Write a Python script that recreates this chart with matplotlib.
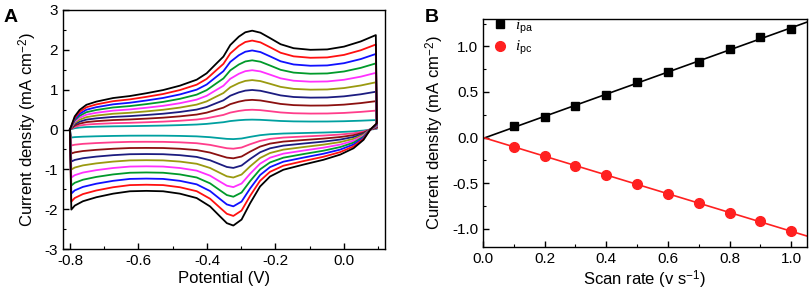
import numpy as np
import matplotlib
matplotlib.use("Agg")
from matplotlib import pyplot as plt
from matplotlib.ticker import MultipleLocator

plt.rcParams['font.family'] = ['Liberation Sans', 'DejaVu Sans']
plt.rcParams['mathtext.fontset'] = 'custom'
plt.rcParams['mathtext.rm'] = 'Liberation Sans'
plt.rcParams['mathtext.it'] = 'Liberation Serif:italic'

# outermost CV loop (1.0 V/s), anodic sweep then cathodic sweep
cv_x = [-0.800, -0.786, -0.772, -0.752, -0.723, -0.674, -0.625, -0.577, -0.528,
        -0.479, -0.430, -0.401, -0.372, -0.352, -0.332, -0.307, -0.288, -0.268,
        -0.244, -0.215, -0.185, -0.147, -0.098, -0.049, 0.000, 0.049, 0.093,
        0.096,
        0.077, 0.057, 0.028, -0.011, -0.060, -0.118, -0.177, -0.216, -0.245,
        -0.274, -0.299, -0.323, -0.342, -0.362, -0.391, -0.430, -0.479, -0.528,
        -0.577, -0.625, -0.674, -0.723, -0.762, -0.786, -0.796, -0.800]
cv_y = [0.00, 0.33, 0.49, 0.62, 0.70, 0.79, 0.84, 0.91, 0.99,
        1.10, 1.25, 1.41, 1.66, 1.83, 2.12, 2.33, 2.44, 2.48,
        2.43, 2.29, 2.14, 2.04, 2.00, 2.01, 2.08, 2.21, 2.37,
        0.16,
        0.00, -0.26, -0.47, -0.63, -0.76, -0.88, -1.01, -1.18, -1.43,
        -1.85, -2.26, -2.41, -2.35, -2.18, -1.93, -1.72, -1.61, -1.55,
        -1.54, -1.55, -1.61, -1.70, -1.80, -1.91, -2.01, 0.00]
# anodic peak height of each curve, 0.1 ... 1.0 V/s
cv_peak = [0.25, 0.50, 0.75, 1.00, 1.25, 1.50, 1.75, 2.00, 2.25, 2.50]
cv_cols = ['#00a0a0', '#ff3d8b', '#8b1010', '#1c1c80', '#9a9a10',
           '#ff30ff', '#009a2a', '#1010ff', '#ff1010', 'black']

rate = [0.1, 0.2, 0.3, 0.4, 0.5, 0.6, 0.7, 0.8, 0.9, 1.0]
ipa = [0.123, 0.228, 0.348, 0.467, 0.609, 0.717, 0.826, 0.967, 1.098, 1.196]
ipc = [-0.100, -0.203, -0.312, -0.413, -0.507, -0.616, -0.717, -0.826, -0.920, -1.029]

fig = plt.figure(figsize=(8.09, 2.93), dpi=100)
axA = fig.add_axes([0.078, 0.150, 0.398, 0.816])
axB = fig.add_axes([0.597, 0.157, 0.400, 0.778])

cx = np.array(cv_x)
cy = np.array(cv_y)
for pk, c in zip(cv_peak, cv_cols):
    axA.plot(cx, cy * pk / cv_peak[-1], color=c, linewidth=1.3)

axA.set_xlim(-0.82, 0.12)
axA.set_ylim(-3, 3)
axA.xaxis.set_minor_locator(MultipleLocator(0.1))
axA.yaxis.set_minor_locator(MultipleLocator(0.5))
axA.set_xticks([-0.8, -0.6, -0.4, -0.2, 0.0])
axA.set_xticklabels(['-0.8', '-0.6', '-0.4', '-0.2', '0.0'])
axA.set_yticks([-3, -2, -1, 0, 1, 2, 3])
axA.set_yticklabels(['-3', '-2', '-1', '0', '1', '2', '3'])
axA.set_xlabel('Potential (V)', fontsize=12, labelpad=2)
axA.set_ylabel('Current density (mA cm$^{-2}$)', fontsize=12, labelpad=4)

# linear fits
xf = np.array([0.0, 1.05])
pa = np.polyfit(rate, ipa, 1)
pc = np.polyfit(rate, ipc, 1)
axB.plot(xf, np.polyval(pa, xf), color='black', linewidth=1.2)
axB.plot(xf, np.polyval(pc, xf), color='#ff2020', linewidth=1.2)
axB.plot(rate, ipa, 's', color='black', markersize=6, label=r'$\mathit{i}_{\rm pa}$')
axB.plot(rate, ipc, 'o', color='#ff2020', markersize=7, label=r'$\mathit{i}_{\rm pc}$')
axB.set_xlim(0, 1.05)
axB.set_ylim(-1.2, 1.3)
axB.xaxis.set_minor_locator(MultipleLocator(0.1))
axB.yaxis.set_minor_locator(MultipleLocator(0.25))
axB.set_xticks([0.0, 0.2, 0.4, 0.6, 0.8, 1.0])
axB.set_xticklabels(['0.0', '0.2', '0.4', '0.6', '0.8', '1.0'])
axB.set_yticks([-1.0, -0.5, 0.0, 0.5, 1.0])
axB.set_yticklabels(['-1.0', '-0.5', '0.0', '0.5', '1.0'])
axB.set_xlabel('Scan rate (v s$^{-1}$)', fontsize=12, labelpad=2)
axB.set_ylabel('Current density (mA cm$^{-2}$)', fontsize=12, labelpad=4)
axB.legend(loc='upper left', frameon=False, fontsize=11, handletextpad=0.1,
           borderaxespad=0.0, borderpad=0.2, labelspacing=0.25, handlelength=1.8,
           bbox_to_anchor=(0.0, 1.02))

for ax in (axA, axB):
    ax.tick_params(which='both', direction='in', top=False, right=False, labelsize=11)
    ax.tick_params(which='major', length=4, width=1)
    ax.tick_params(which='minor', length=2, width=0.8)
    for s in ax.spines.values():
        s.set_linewidth(1.0)

fig.text(0.004, 0.925, 'A', fontsize=14, fontweight='bold')
fig.text(0.525, 0.925, 'B', fontsize=14, fontweight='bold')

plt.savefig('out.png', dpi=100)
